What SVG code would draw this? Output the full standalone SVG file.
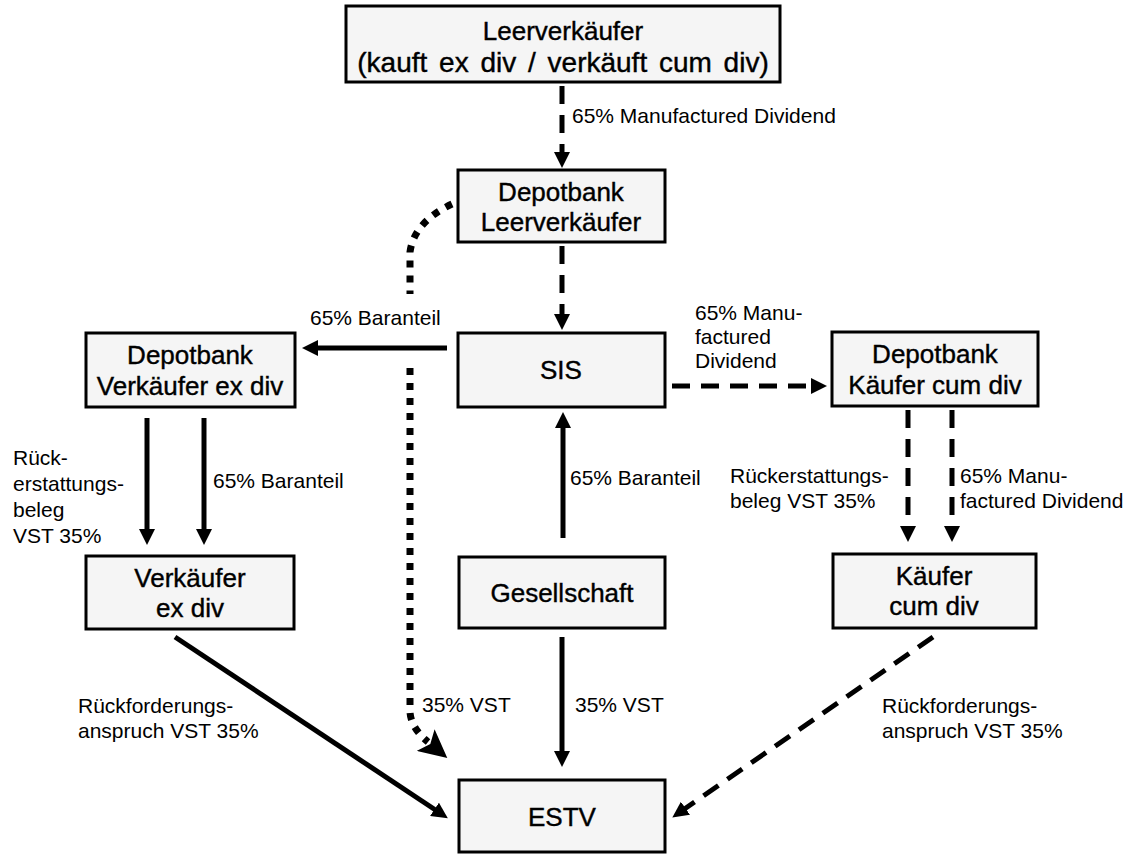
<svg xmlns="http://www.w3.org/2000/svg" width="1143" height="855" viewBox="0 0 1143 855">
<style>
.box{fill:#f5f5f5;stroke:#000;stroke-width:3}
.nt{font-family:"Liberation Sans",Arial,sans-serif;font-size:26px;fill:#000;stroke:#000;stroke-width:0.4;text-anchor:middle}
.lbl{font-family:"Liberation Sans",Arial,sans-serif;font-size:21px;fill:#000}
.solid{fill:none;stroke:#000;stroke-width:5}
.dash{fill:none;stroke:#000;stroke-width:5;stroke-dasharray:18 11}
.dot{fill:none;stroke:#000;stroke-width:7;stroke-dasharray:7 8}
</style>
<defs>
<marker id="ah" markerUnits="userSpaceOnUse" markerWidth="17" markerHeight="16" refX="3" refY="8" orient="auto">
<path d="M0,0 L16,8 L0,16 z" fill="#000"/>
</marker>
<marker id="ahBig" markerUnits="userSpaceOnUse" markerWidth="30" markerHeight="28" refX="3" refY="14" orient="auto">
<path d="M0,0 L28,14 L0,28 L6,14 z" fill="#000"/>
</marker>
</defs>
<rect width="1143" height="855" fill="#fff"/>
<g id="connectors">
<path class="dash" d="M562,86 L562,155" marker-end="url(#ah)"/>
<path class="dash" d="M562,246 L562,317" marker-end="url(#ah)"/>
<path class="solid" d="M447,348 L315,348" marker-end="url(#ah)"/>
<path class="dot" d="M452,204 Q414,222 410,252 L410,294"/>
<path class="dot" d="M410,368 L410,712 Q411,728 428,742" marker-end="url(#ahBig)"/>
<path class="solid" d="M563,538 L563,425" marker-end="url(#ah)"/>
<path class="dash" d="M672,386 L814,386" marker-end="url(#ah)"/>
<path class="solid" d="M147,418 L147,532" marker-end="url(#ah)"/>
<path class="solid" d="M204,418 L204,532" marker-end="url(#ah)"/>
<path class="dash" d="M908,410 L908,529" marker-end="url(#ah)"/>
<path class="dash" d="M952,410 L952,529" marker-end="url(#ah)"/>
<path class="solid" d="M562,637 L562,754" marker-end="url(#ah)"/>
<path class="solid" d="M175,637 L437,811" marker-end="url(#ah)"/>
<path class="dash" d="M933,637 L683,810" marker-end="url(#ah)"/>
<text class="lbl" x="572" y="123">65% Manufactured Dividend</text>
<text class="lbl" x="310" y="325">65% Baranteil</text>
<text class="lbl" x="695" y="320">65% Manu-</text>
<text class="lbl" x="695" y="344">factured</text>
<text class="lbl" x="695" y="368">Dividend</text>
<text class="lbl" x="13" y="465">Rück-</text>
<text class="lbl" x="13" y="491">erstattungs-</text>
<text class="lbl" x="13" y="517">beleg</text>
<text class="lbl" x="13" y="543">VST 35%</text>
<text class="lbl" x="213" y="488">65% Baranteil</text>
<text class="lbl" x="570" y="485">65% Baranteil</text>
<text class="lbl" x="730" y="483">Rückerstattungs-</text>
<text class="lbl" x="730" y="508">beleg VST 35%</text>
<text class="lbl" x="960" y="483">65% Manu-</text>
<text class="lbl" x="960" y="508">factured Dividend</text>
<text class="lbl" x="422" y="712">35% VST</text>
<text class="lbl" x="575" y="712">35% VST</text>
<text class="lbl" x="78" y="713">Rückforderungs-</text>
<text class="lbl" x="78" y="738">anspruch VST 35%</text>
<text class="lbl" x="882" y="713">Rückforderungs-</text>
<text class="lbl" x="882" y="738">anspruch VST 35%</text>
</g>
<g id="n_leerverkaeufer">
<rect class="box" x="346" y="6" width="434" height="76"/>
<text class="nt" x="563" y="40">Leerverkäufer</text>
<text class="nt" x="563" y="72" style="font-size:28px" word-spacing="4">(kauft ex div / verkäuft cum div)</text>
</g>
<g id="n_depot_leer">
<rect class="box" x="458" y="170" width="207" height="72"/>
<text class="nt" x="561" y="201">Depotbank</text>
<text class="nt" x="561" y="231">Leerverkäufer</text>
</g>
<g id="n_sis">
<rect class="box" x="458" y="333" width="207" height="74"/>
<text class="nt" x="561" y="379">SIS</text>
</g>
<g id="n_depot_vexdiv">
<rect class="box" x="86" y="333" width="209" height="74"/>
<text class="nt" x="190" y="364">Depotbank</text>
<text class="nt" x="190" y="395">Verkäufer ex div</text>
</g>
<g id="n_depot_kcumdiv">
<rect class="box" x="832" y="332" width="206" height="74"/>
<text class="nt" x="935" y="363">Depotbank</text>
<text class="nt" x="935" y="394">Käufer cum div</text>
</g>
<g id="n_verkaeufer">
<rect class="box" x="86" y="556" width="208" height="73"/>
<text class="nt" x="190" y="587">Verkäufer</text>
<text class="nt" x="190" y="617">ex div</text>
</g>
<g id="n_gesellschaft">
<rect class="box" x="459" y="557" width="206" height="71"/>
<text class="nt" x="562" y="602">Gesellschaft</text>
</g>
<g id="n_kaeufer">
<rect class="box" x="833" y="554" width="203" height="74"/>
<text class="nt" x="934" y="585">Käufer</text>
<text class="nt" x="934" y="615">cum div</text>
</g>
<g id="n_estv">
<rect class="box" x="459" y="780" width="206" height="72"/>
<text class="nt" x="562" y="826">ESTV</text>
</g>
</svg>
